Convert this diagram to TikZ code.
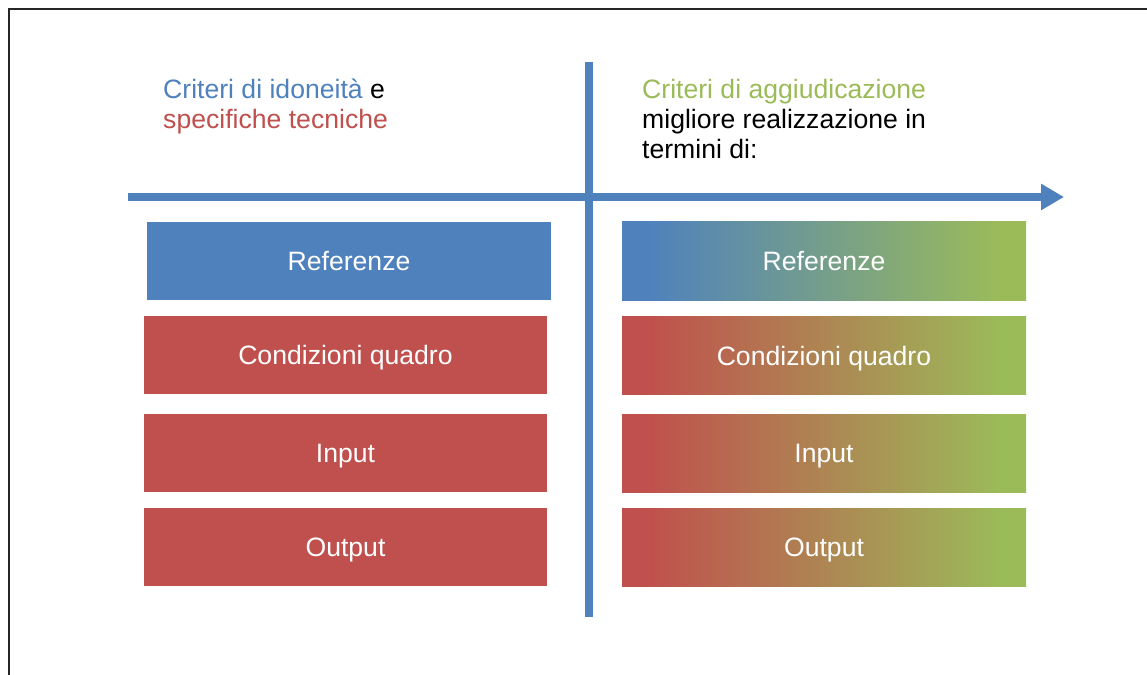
\documentclass[tikz,border=0pt]{standalone}
\usepackage{fontspec}
\setmainfont{Liberation Sans}
\usetikzlibrary{arrows.meta}
\definecolor{cblue}{HTML}{4F81BD}
\definecolor{cred}{HTML}{C0504D}
\definecolor{cgreen}{HTML}{9BBB59}
\pgfdeclarehorizontalshading{bluegreen}{100bp}{color(0bp)=(cblue); color(28bp)=(cblue); color(72bp)=(cgreen); color(100bp)=(cgreen)}
\pgfdeclarehorizontalshading{redgreen}{100bp}{color(0bp)=(cred); color(28bp)=(cred); color(72bp)=(cgreen); color(100bp)=(cgreen)}
\tikzset{
  txt/.style={font=\fontsize{26.7}{30}\selectfont},
  head/.style={txt, anchor=base west, inner sep=0pt},
  box/.style={txt, text=white, minimum width=403bp, minimum height=78bp, inner sep=0pt, text height=19.1bp, text depth=0pt},
  bluebox/.style={box, fill=cblue},
  redbox/.style={box, fill=cred},
  bgbox/.style={box, shading=bluegreen},
  rgbox/.style={box, shading=redgreen},
  axisline/.style={draw=cblue, line width=8bp},
}
\begin{document}
\begin{tikzpicture}[x=1bp,y=-1bp]
\useasboundingbox (0,0) rectangle (1147,675);
\fill[white] (0,0) rectangle (1147,675);
% frame
\draw[line width=2.2bp, black!85] (9,675) -- (9,9) -- (1147,9);
% axes
\coordinate (hs) at (128,197);
\coordinate (he) at (1064,197);
\coordinate (vs) at (589,62);
\coordinate (ve) at (589,617);
\draw[axisline, -{Triangle[length=23bp,width=25bp]}] (hs) -- (he);
\draw[axisline] (vs) -- (ve);
% headers
\node[head] (l1) at (163,99) {\textcolor{cblue}{Criteri di idoneità} e};
\node[head, text=cred] (l2) at (163,129) {specifiche tecniche};
\node[head, text=cgreen] (r1) at (642,99) {Criteri di aggiudicazione};
\node[head] (r2) at (642,129) {migliore realizzazione in};
\node[head] (r3) at (642,159) {termini di:};
% left boxes
\node[bluebox, minimum width=404bp] (lb1) at (349,261) {Referenze};
\node[redbox] (lb2) at (345.5,355) {Condizioni quadro};
\node[redbox] (lb3) at (345.5,453) {Input};
\node[redbox] (lb4) at (345.5,547) {Output};
% right boxes
\node[bgbox, minimum width=404bp] (rb1) at (824,261) {Referenze};
\node[rgbox, minimum width=404bp] (rb2) at (824,355.5) {Condizioni quadro};
\node[rgbox, minimum width=404bp] (rb3) at (824,453) {Input};
\node[rgbox, minimum width=404bp] (rb4) at (824,547) {Output};
\end{tikzpicture}
\end{document}
